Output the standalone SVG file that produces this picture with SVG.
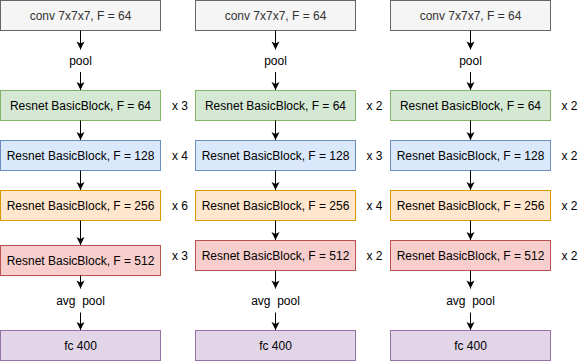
<svg xmlns="http://www.w3.org/2000/svg" width="585" height="361" viewBox="0 0 585 361">
<defs>
<style>
text{font-family:"Liberation Sans",Arial,Helvetica,sans-serif;font-size:12px;fill:#000;text-anchor:middle}
.gray rect{fill:#f5f5f5;stroke:#666666}
.gray text{fill:#333333}
.green rect{fill:#d5e8d4;stroke:#82b366}
.blue rect{fill:#dae8fc;stroke:#6c8ebf}
.orange rect{fill:#ffe6cc;stroke:#d79b00}
.red rect{fill:#f8cecc;stroke:#b85450}
.purple rect{fill:#e1d5e7;stroke:#9673a6}
.edges line{stroke:#000;stroke-width:1;marker-end:url(#arr)}
</style>
<marker id="arr" viewBox="-9 -5 10 10" refX="0" refY="0" markerWidth="10" markerHeight="10" markerUnits="userSpaceOnUse" orient="auto">
<path d="M0,0 L-8,-4 L-6,0 L-8,4 Z" fill="#000"/>
</marker>
</defs>

<!-- Column 1 -->
<g id="c1-conv" class="gray"><rect x="0.5" y="0.5" width="160" height="30"/><text x="80.5" y="19.5">conv 7x7x7, F = 64</text></g>
<g id="c1-pool"><text x="80.5" y="65">pool</text></g>
<g id="c1-b64" class="green"><rect x="0.5" y="90.5" width="160" height="30"/><text x="80.5" y="109.5">Resnet BasicBlock, F = 64</text></g>
<g id="c1-b128" class="blue"><rect x="0.5" y="140.5" width="160" height="30"/><text x="80.5" y="159.5">Resnet BasicBlock, F = 128</text></g>
<g id="c1-b256" class="orange"><rect x="0.5" y="190.5" width="160" height="30"/><text x="80.5" y="209.5">Resnet BasicBlock, F = 256</text></g>
<g id="c1-b512" class="red"><rect x="0.5" y="245.5" width="160" height="30"/><text x="80.5" y="264.5">Resnet BasicBlock, F = 512</text></g>
<g id="c1-avgpool"><text x="80.5" y="305" xml:space="preserve">avg  pool</text></g>
<g id="c1-fc" class="purple"><rect x="0.5" y="330.5" width="160" height="30"/><text x="80.5" y="349.5">fc 400</text></g>
<g id="c1-reps"><text x="180" y="109.5">x 3</text><text x="180" y="159.5">x 4</text><text x="180" y="209.5">x 6</text><text x="180" y="259.5">x 3</text></g>

<!-- Column 2 -->
<g id="c2-conv" class="gray"><rect x="195.5" y="0.5" width="160" height="30"/><text x="275.5" y="19.5">conv 7x7x7, F = 64</text></g>
<g id="c2-pool"><text x="275.5" y="65">pool</text></g>
<g id="c2-b64" class="green"><rect x="195.5" y="90.5" width="160" height="30"/><text x="275.5" y="109.5">Resnet BasicBlock, F = 64</text></g>
<g id="c2-b128" class="blue"><rect x="195.5" y="140.5" width="160" height="30"/><text x="275.5" y="159.5">Resnet BasicBlock, F = 128</text></g>
<g id="c2-b256" class="orange"><rect x="195.5" y="190.5" width="160" height="30"/><text x="275.5" y="209.5">Resnet BasicBlock, F = 256</text></g>
<g id="c2-b512" class="red"><rect x="195.5" y="240.5" width="160" height="30"/><text x="275.5" y="259.5">Resnet BasicBlock, F = 512</text></g>
<g id="c2-avgpool"><text x="275.5" y="305" xml:space="preserve">avg  pool</text></g>
<g id="c2-fc" class="purple"><rect x="195.5" y="330.5" width="160" height="30"/><text x="275.5" y="349.5">fc 400</text></g>
<g id="c2-reps"><text x="374.5" y="109.5">x 2</text><text x="374.5" y="159.5">x 3</text><text x="374.5" y="209.5">x 4</text><text x="374.5" y="259.5">x 2</text></g>

<!-- Column 3 -->
<g id="c3-conv" class="gray"><rect x="390.5" y="0.5" width="160" height="30"/><text x="470.5" y="19.5">conv 7x7x7, F = 64</text></g>
<g id="c3-pool"><text x="470.5" y="65">pool</text></g>
<g id="c3-b64" class="green"><rect x="390.5" y="90.5" width="160" height="30"/><text x="470.5" y="109.5">Resnet BasicBlock, F = 64</text></g>
<g id="c3-b128" class="blue"><rect x="390.5" y="140.5" width="160" height="30"/><text x="470.5" y="159.5">Resnet BasicBlock, F = 128</text></g>
<g id="c3-b256" class="orange"><rect x="390.5" y="190.5" width="160" height="30"/><text x="470.5" y="209.5">Resnet BasicBlock, F = 256</text></g>
<g id="c3-b512" class="red"><rect x="390.5" y="240.5" width="160" height="30"/><text x="470.5" y="259.5">Resnet BasicBlock, F = 512</text></g>
<g id="c3-avgpool"><text x="470.5" y="305" xml:space="preserve">avg  pool</text></g>
<g id="c3-fc" class="purple"><rect x="390.5" y="330.5" width="160" height="30"/><text x="470.5" y="349.5">fc 400</text></g>
<g id="c3-reps"><text x="569.5" y="109.5">x 2</text><text x="569.5" y="159.5">x 2</text><text x="569.5" y="209.5">x 2</text><text x="569.5" y="259.5">x 2</text></g>

<g id="connectors" class="edges">
<line x1="80.5" y1="30.5" x2="80.5" y2="49.5"/>
<line x1="80.5" y1="72" x2="80.5" y2="90"/>
<line x1="80.5" y1="120.5" x2="80.5" y2="140"/>
<line x1="80.5" y1="170.5" x2="80.5" y2="190"/>
<line x1="80.5" y1="220.5" x2="80.5" y2="245"/>
<line x1="80.5" y1="275.5" x2="80.5" y2="288.5"/>
<line x1="80.5" y1="312.5" x2="80.5" y2="330"/>

<line x1="275.5" y1="30.5" x2="275.5" y2="49.5"/>
<line x1="275.5" y1="72" x2="275.5" y2="90"/>
<line x1="275.5" y1="120.5" x2="275.5" y2="140"/>
<line x1="275.5" y1="170.5" x2="275.5" y2="190"/>
<line x1="275.5" y1="220.5" x2="275.5" y2="240"/>
<line x1="275.5" y1="270.5" x2="275.5" y2="288.5"/>
<line x1="275.5" y1="312.5" x2="275.5" y2="330"/>

<line x1="470.5" y1="30.5" x2="470.5" y2="49.5"/>
<line x1="470.5" y1="72" x2="470.5" y2="90"/>
<line x1="470.5" y1="120.5" x2="470.5" y2="140"/>
<line x1="470.5" y1="170.5" x2="470.5" y2="190"/>
<line x1="470.5" y1="220.5" x2="470.5" y2="240"/>
<line x1="470.5" y1="270.5" x2="470.5" y2="288.5"/>
<line x1="470.5" y1="312.5" x2="470.5" y2="330"/>
</g>
</svg>
